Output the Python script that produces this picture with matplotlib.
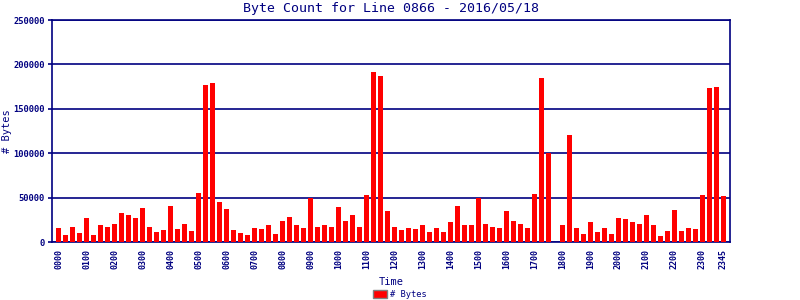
import numpy as np
import matplotlib.pyplot as plt
from matplotlib.patches import Patch

# byte counts per 15 minute slot, 0000 .. 2345
byte_counts = [
    16300, 8300, 17400, 10600, 26500, 8300, 18600, 17400,
    20800, 32200, 29900, 26500, 37900, 17400, 11700, 14000,
    40200, 15200, 20800, 12900, 54900, 176800, 179000, 44700,
    36700, 14000, 10600, 8300, 16300, 15200, 18600, 9500,
    23100, 27700, 18600, 16300, 50000, 17400, 18600, 17400,
    39000, 23100, 29900, 17400, 52700, 191400, 186900, 34500,
    17400, 14000, 16300, 15200, 18600, 11700, 16300, 11700,
    22000, 40200, 18600, 19700, 49200, 20800, 17400, 16300,
    34500, 23100, 20800, 16300, 53800, 184700, 100200, 0,
    18600, 120500, 16300, 9500, 22000, 11700, 16300, 9500,
    26500, 25400, 22000, 20800, 29900, 19700, 7200, 12900,
    35600, 12900, 16300, 15200, 52700, 173400, 174500, 51500,
]
tick_slots = [0, 4, 8, 12, 16, 20, 24, 28, 32, 36, 40, 44, 48, 52, 56, 60,
              64, 68, 72, 76, 80, 84, 88, 92, 95]
tick_labels = ["0000", "0100", "0200", "0300", "0400", "0500", "0600", "0700",
               "0800", "0900", "1000", "1100", "1200", "1300", "1400", "1500",
               "1600", "1700", "1800", "1900", "2000", "2100", "2200", "2300",
               "2345"]
y_ticks = [0, 50000, 100000, 150000, 200000, 250000]

navy = "#000080"
plt.rcParams['font.family'] = ['DejaVu Sans Mono']

fig = plt.figure(figsize=(8, 3), dpi=100)
ax = fig.add_axes([0.065, 0.1933, 0.8475, 0.74])

x = np.arange(len(byte_counts))
ax.bar(x, byte_counts, width=0.84, color="#ff0000", linewidth=0, zorder=3)

ax.set_xlim(-0.93, 95.93)
ax.set_ylim(0, 250000)
ax.set_yticks(y_ticks)
ax.set_yticklabels([str(v) for v in y_ticks], fontsize=6.3, color=navy, fontweight="bold")
ax.set_xticks(tick_slots)
ax.set_xticklabels(tick_labels, rotation=90, fontsize=6, color=navy, fontweight="bold")
ax.tick_params(axis="x", length=0, pad=5)
ax.tick_params(axis="y", length=3, color=navy, width=1.2, pad=2)
ax.grid(axis="y", color=navy, linewidth=1.2, zorder=1)

for s in ["left", "bottom", "right", "top"]:
    ax.spines[s].set_color(navy)
    ax.spines[s].set_linewidth(1.2)

ax.set_title("Byte Count for Line 0866 - 2016/05/18", fontsize=9.5, color=navy, pad=6)
ax.set_ylabel("# Bytes", fontsize=7.5, color=navy)
ax.yaxis.set_label_coords(-0.059, 0.5)
ax.set_xlabel("Time", fontsize=7.5, color=navy)
ax.xaxis.set_label_coords(0.5, -0.158)

fig.legend(handles=[Patch(facecolor="#ff0000", edgecolor="#808080", linewidth=1)],
           labels=["# Bytes"], loc="center", bbox_to_anchor=(0.5, 0.017),
           frameon=False, fontsize=6.3, handlelength=1.6, handleheight=1.0,
           handletextpad=0.4, labelcolor=navy)

fig.savefig("out.png", dpi=100)
